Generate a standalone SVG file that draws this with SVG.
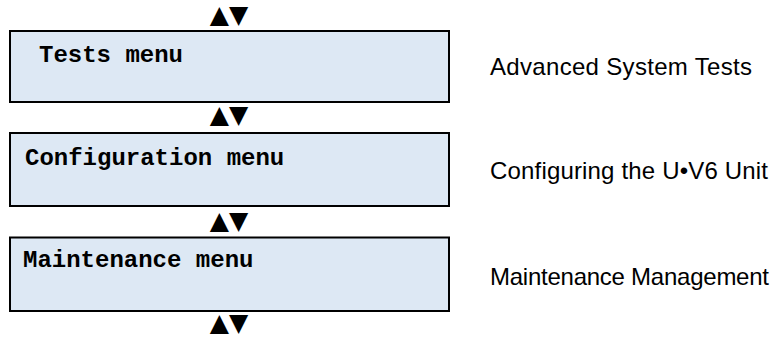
<svg xmlns="http://www.w3.org/2000/svg" width="781" height="338" viewBox="0 0 781 338">
<style>
.box{fill:#dde8f4;stroke:#000;stroke-width:2}
.mono{font-family:"Liberation Mono","Courier New",monospace;font-weight:bold;font-size:24px;fill:#000}
.desc{font-family:"Liberation Sans",Arial,sans-serif;font-size:24px;fill:#000}
.nav{font-family:"DejaVu Sans",sans-serif;font-size:25px;fill:#000;text-anchor:middle}
</style>
<rect width="781" height="338" fill="#fff"/>
<g id="connectors">
<text class="nav" x="229" y="23">▲▼</text>
<text class="nav" x="229" y="123">▲▼</text>
<text class="nav" x="229" y="229">▲▼</text>
<text class="nav" x="229" y="331">▲▼</text>
</g>
<g id="tests">
<rect class="box" x="10" y="31" width="439" height="71"/>
<text class="mono" x="39" y="62">Tests menu</text>
<text class="desc" x="490" y="75" textLength="262">Advanced System Tests</text>
</g>
<g id="config">
<rect class="box" x="10" y="133" width="439" height="73"/>
<text class="mono" x="25" y="165">Configuration menu</text>
<text class="desc" x="490" y="179" textLength="278">Configuring the U•V6 Unit</text>
</g>
<g id="maint">
<rect class="box" x="10" y="237.5" width="439" height="73.5"/>
<text class="mono" x="23" y="267">Maintenance menu</text>
<text class="desc" x="490" y="285" textLength="279">Maintenance Management</text>
</g>
</svg>
